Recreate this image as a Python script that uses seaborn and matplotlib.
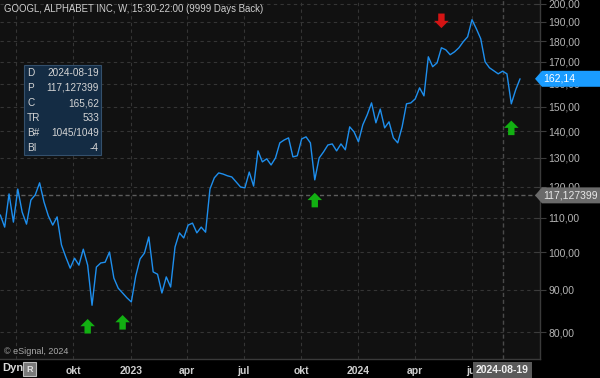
import pandas as pd
import numpy as np
import matplotlib
matplotlib.use('Agg')
import matplotlib.pyplot as plt
from matplotlib.path import Path
from matplotlib.ticker import FuncFormatter, NullLocator, FixedLocator
import seaborn as sns

# weekly closes GOOGL
start_week = '2022-06-06'
closes = [110.9, 107.2, 117.6, 108.7, 119.2, 111.8, 108.1, 115.6, 117.3, 121.3,
          115.0, 110.6, 107.8, 110.3, 102.0, 98.6, 95.6, 98.3, 96.4, 100.8,
          96.4, 86.2, 95.9, 97.0, 97.2, 100.0, 93.0, 90.4, 89.2, 88.0,
          87.0, 93.5, 98.1, 99.7, 104.3, 94.6, 94.0, 89.2, 93.3, 90.7,
          101.4, 105.5, 104.0, 107.8, 108.4, 105.5, 107.2, 105.7, 119.2, 123.0,
          124.7, 124.3, 123.7, 123.3, 121.6, 119.9, 119.6, 125.0, 120.2, 132.6,
          128.6, 129.7, 127.5, 130.0, 135.6, 136.7, 137.5, 130.4, 130.8, 137.1,
          137.9, 135.6, 122.3, 130.0, 132.2, 134.8, 135.2, 132.6, 135.2, 133.0,
          141.8, 139.8, 136.0, 142.6, 146.6, 151.6, 143.4, 149.0, 141.4, 143.8,
          137.5, 135.6, 141.8, 151.2, 151.6, 153.3, 158.1, 154.6, 172.4, 167.7,
          169.5, 176.8, 175.8, 173.4, 174.8, 176.8, 179.8, 182.3, 191.2, 186.4,
          181.3, 170.0, 167.2, 165.8, 164.4, 165.62, 164.4, 151.2, 157.2, 162.14]

# signal arrows
buy_dates = ['2022-10-24', '2022-12-19', '2023-10-23', '2024-09-02']
buy_levels = [81.3, 82.2, 115.6, 141.4]
sell_dates = ['2024-05-13']
sell_levels = [190.6]

# cursor / info box
cursor_date = '2024-08-19'
cursor_price = 117.127399
last_price = 162.14
info_keys = ['D', 'P', 'C', 'TR', 'B#', 'BI']
info_vals = ['2024-08-19', '117,127399', '165,62', '533', '1045/1049', '-4']

yticks = [80, 90, 100, 110, 120, 130, 140, 150, 160, 170, 180, 190, 200]
quarter_ticks = ['2022-07-01', '2022-10-01', '2023-01-01', '2023-04-01', '2023-07-01',
                 '2023-10-01', '2024-01-01', '2024-04-01', '2024-07-01']
quarter_labels = ['', 'okt', '2023', 'apr', 'jul', 'okt', '2024', 'apr', 'jul']

df = pd.DataFrame({'date': pd.date_range(start_week, periods=len(closes), freq='W-MON'),
                   'close': closes})

sns.set_theme(style='dark')
plt.rcParams['font.family'] = ['Liberation Sans', 'DejaVu Sans']

W, H = 600, 378
fig = plt.figure(figsize=(6, 3.78), dpi=100, facecolor='black')
ax = fig.add_axes([0, 1 - 359 / H, 540 / W, 359 / H])
ax.set_facecolor('#111111')

ax.set_yscale('log')
ax.set_ylim(74.2, 202.0)
ax.set_xlim(pd.Timestamp('2022-06-05 12:00'), pd.Timestamp('2024-10-18'))
ax.yaxis.set_major_locator(FixedLocator(yticks))
ax.yaxis.set_minor_locator(NullLocator())
ax.yaxis.set_major_formatter(FuncFormatter(lambda v, p: f'{v:.2f}'.replace('.', ',')))
ax.set_xticks(pd.to_datetime(quarter_ticks))
ax.set_xticklabels(quarter_labels)
ax.grid(True, color='#353535', linestyle=(0, (3, 3)), lw=0.8)

# crosshair
ax.axhline(cursor_price, color='#5c5c5c', linestyle=(0, (3, 2)), lw=1)
ax.axvline(pd.Timestamp(cursor_date), color='#4a4a4a', linestyle=(0, (3, 2)), lw=1)

sns.lineplot(data=df, x='date', y='close', ax=ax, color='#1e8fee', lw=1)

up = Path([(-0.22, -0.5), (0.22, -0.5), (0.22, 0.0), (0.5, 0.0), (0, 0.5),
           (-0.5, 0.0), (-0.22, 0.0), (-0.22, -0.5)], closed=True)
down = Path([(x, -y) for x, y in up.vertices], closed=True)
sns.scatterplot(x=pd.to_datetime(buy_dates), y=buy_levels, ax=ax, marker=up, s=110,
                color='#12b012', edgecolor='none', zorder=5)
sns.scatterplot(x=pd.to_datetime(sell_dates), y=sell_levels, ax=ax, marker=down, s=110,
                color='#d41414', edgecolor='none', zorder=5)

ax.set_xlabel('')
ax.set_ylabel('')
ax.yaxis.tick_right()
ax.tick_params(axis='y', colors='#3c3c3c', labelcolor='#b4b4b4', labelsize=7.5,
               direction='inout', length=8, width=0.8, pad=2)
ax.tick_params(axis='x', length=0, labelcolor='#cfcfcf', labelsize=7.5, pad=5)
for lab in ax.get_xticklabels():
    lab.set_fontweight('bold')
for s in ['left', 'top']:
    ax.spines[s].set_visible(False)
for s in ['right', 'bottom']:
    ax.spines[s].set_color('#3a3a3a')
    ax.spines[s].set_linewidth(1)

# title
ax.text(4 / 540, 1 - 9 / 359, 'GOOGL, ALPHABET INC, W, 15:30-22:00 (9999 Days Back)',
        transform=ax.transAxes, color='#cfcfcf', fontsize=6.9, va='center', ha='left')
ax.text(4 / 540, 1 - 351 / 359, '© eSignal, 2024', transform=ax.transAxes,
        color='#a8a8a8', fontsize=6.5, va='center', ha='left')

# info box
ax.add_patch(plt.Rectangle((24 / 540, 1 - 155 / 359), 77 / 540, 90 / 359,
                           transform=ax.transAxes, fc='#142c44', ec='#34506c', lw=0.8, zorder=6))
for i, (k, v) in enumerate(zip(info_keys, info_vals)):
    yy = 1 - (73 + 15 * i) / 359
    ax.text(27 / 540, yy, k, transform=ax.transAxes, color='#d4d4d4', fontsize=7.2,
            va='center', ha='left', zorder=7)
    ax.text(99 / 540, yy, v, transform=ax.transAxes, color='#d4d4d4', fontsize=7.2,
            va='center', ha='right', zorder=7)


# price labels on the right axis (arrow-shaped tags)
def price_tag(value, text, fc, tc):
    yc = ax.transData.transform((0, value))[1]
    pts = [(535, yc), (542, yc - 8), (W, yc - 8), (W, yc + 8), (542, yc + 8)]
    pts = [(x / W, y / H) for x, y in pts]
    fig.patches.append(plt.Polygon(pts, closed=True, transform=fig.transFigure,
                                   fc=fc, ec='none', zorder=9))
    fig.text(543 / W, yc / H, text, color=tc, fontsize=7.5, va='center', ha='left', zorder=10)


price_tag(last_price, f'{last_price:.2f}'.replace('.', ','), '#1a9cff', 'white')
price_tag(cursor_price, f'{cursor_price:.6f}'.replace('.', ','), '#6a6a6a', '#e8e8e8')

fig.text(502.5 / W, 1 - 370 / H, cursor_date, color='#f0f0f0', fontsize=7.5,
         fontweight='bold', va='center', ha='center', zorder=10,
         bbox=dict(boxstyle='square,pad=0.25', fc='#5a5a5a', ec='none'))

# Dyn button
fig.text(2 / W, 1 - 368 / H, 'Dyn', color='#d8d8d8', fontsize=8, fontweight='bold',
         va='center', ha='left')
fig.patches.append(plt.Rectangle((23 / W, 1 - 376 / H), 13 / W, 14 / H,
                                 transform=fig.transFigure, fc='#7a7a7a', ec='#bdbdbd', lw=0.8))
fig.text(29.5 / W, 1 - 369 / H, 'R', color='#e0e0e0', fontsize=6.5, fontweight='bold',
         va='center', ha='center')

fig.savefig('out.png', dpi=100, facecolor='black')
